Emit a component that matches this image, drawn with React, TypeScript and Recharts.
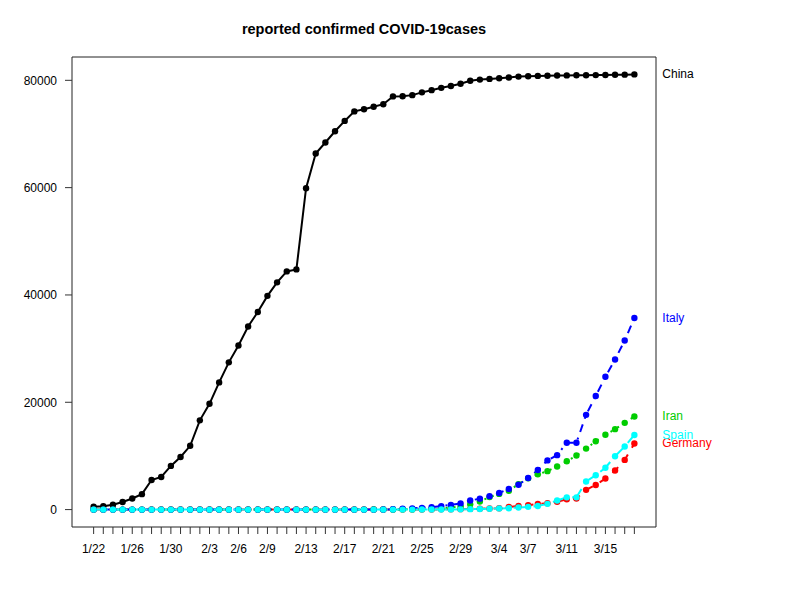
import React from "react";
import {
  ComposedChart,
  Line,
  XAxis,
  YAxis,
  ReferenceArea,
  LabelList,
} from "recharts";

// days 1/22 .. 3/18 (2020)
const dates = [
  "1/22", "1/23", "1/24", "1/25", "1/26", "1/27", "1/28", "1/29", "1/30", "1/31",
  "2/1", "2/2", "2/3", "2/4", "2/5", "2/6", "2/7", "2/8", "2/9", "2/10",
  "2/11", "2/12", "2/13", "2/14", "2/15", "2/16", "2/17", "2/18", "2/19", "2/20",
  "2/21", "2/22", "2/23", "2/24", "2/25", "2/26", "2/27", "2/28", "2/29", "3/1",
  "3/2", "3/3", "3/4", "3/5", "3/6", "3/7", "3/8", "3/9", "3/10", "3/11",
  "3/12", "3/13", "3/14", "3/15", "3/16", "3/17", "3/18",
];

const labeledDates = ["1/22", "1/26", "1/30", "2/3", "2/6", "2/9", "2/13", "2/17", "2/21", "2/25", "2/29", "3/4", "3/7", "3/11", "3/15"];

const yTicks = [0, 20000, 40000, 60000, 80000];

const china = [
  548, 643, 920, 1406, 2075, 2877, 5509, 6087, 8141, 9802,
  11891, 16630, 19716, 23707, 27440, 30587, 34110, 36814, 39829, 42354,
  44386, 44759, 59895, 66358, 68413, 70513, 72434, 74211, 74619, 75077,
  75550, 77001, 77022, 77241, 77754, 78166, 78600, 78928, 79356, 79932,
  80136, 80261, 80386, 80537, 80690, 80770, 80823, 80860, 80887, 80921,
  80932, 80945, 80977, 81003, 81033, 81058, 81102,
];

const germany = [
  0, 0, 0, 0, 0, 1, 4, 4, 4, 5,
  8, 10, 12, 12, 12, 12, 13, 13, 14, 14,
  16, 16, 16, 16, 16, 16, 16, 16, 16, 16,
  16, 16, 16, 16, 17, 27, 46, 48, 79, 130,
  159, 196, 262, 482, 670, 799, 1040, 1176, 1457, 1908,
  2078, 3675, 4585, 5795, 7272, 9257, 12327,
];

const iran = [
  0, 0, 0, 0, 0, 0, 0, 0, 0, 0,
  0, 0, 0, 0, 0, 0, 0, 0, 0, 0,
  0, 0, 0, 0, 0, 0, 0, 0, 2, 5,
  18, 28, 43, 61, 95, 139, 245, 388, 593, 978,
  1501, 2336, 2922, 3513, 4747, 5823, 6566, 7161, 8042, 9000,
  10075, 11364, 12729, 13938, 14991, 16169, 17361,
];

const italy = [
  0, 0, 0, 0, 0, 0, 0, 0, 0, 2,
  2, 2, 2, 2, 2, 2, 3, 3, 3, 3,
  3, 3, 3, 3, 3, 3, 3, 3, 3, 3,
  20, 62, 155, 229, 322, 453, 655, 888, 1128, 1694,
  2036, 2502, 3089, 3858, 4636, 5883, 7375, 9172, 10149, 12462,
  12462, 17660, 21157, 24747, 27980, 31506, 35713,
];

const spain = [
  0, 0, 0, 0, 0, 0, 0, 0, 0, 0,
  1, 1, 1, 1, 1, 1, 1, 1, 2, 2,
  2, 2, 2, 2, 2, 2, 2, 2, 2, 2,
  2, 2, 2, 2, 6, 13, 15, 32, 45, 84,
  120, 165, 222, 259, 400, 500, 673, 1073, 1695, 2277,
  2277, 5232, 6391, 7798, 9942, 11748, 13910,
];

const series = [
  { key: "China", values: china, color: "#000000", dash: undefined },
  { key: "Germany", values: germany, color: "#FF0000", dash: "8 8" },
  { key: "Iran", values: iran, color: "#00CD00", dash: "2 6" },
  { key: "Italy", values: italy, color: "#0000FF", dash: "2 6 8 6" },
  { key: "Spain", values: spain, color: "#00FFFF", dash: "14 6" },
];

const rows = dates.map((d, i) => {
  const r: Record<string, number | string> = { i, date: d };
  series.forEach((s) => {
    r[s.key] = s.values[i];
  });
  return r;
});

const n = dates.length;
const xPad = (n - 1) * 0.04;
const yMax = Math.max(...china);
const yPad = yMax * 0.04;
const xDomain: [number, number] = [-xPad, n - 1 + xPad];
const yDomain: [number, number] = [-yPad, yMax + yPad];
const xTicks = dates.map((_, i) => i);

const FONT = "'Liberation Sans', Arial, Helvetica, sans-serif";

export default function App() {
  return (
    <div style={{ position: "absolute", left: 0, top: 0, fontFamily: FONT }}>
      <ComposedChart
        width={800}
        height={600}
        data={rows}
        margin={{ top: 57, right: 144, bottom: 0, left: 0 }}
        style={{ fontFamily: FONT }}
      >
        <XAxis
          dataKey="i"
          type="number"
          domain={xDomain}
          ticks={xTicks}
          interval={0}
          height={73}
          axisLine={false}
          tickSize={7}
          tickMargin={10}
          tick={{ fill: "#000", fontSize: 12 }}
          tickLine={{ stroke: "#333" }}
          tickFormatter={(v: number) => (labeledDates.includes(dates[v]) ? dates[v] : "")}
          allowDataOverflow
        />
        <YAxis
          type="number"
          domain={yDomain}
          ticks={yTicks}
          interval={0}
          width={72}
          axisLine={false}
          tickSize={7}
          tickMargin={8}
          tick={{ fill: "#000", fontSize: 12 }}
          tickLine={{ stroke: "#333" }}
          allowDataOverflow
        />
        <ReferenceArea
          x1={xDomain[0]}
          x2={xDomain[1]}
          y1={yDomain[0]}
          y2={yDomain[1]}
          fill="none"
          stroke="#222"
          strokeWidth={1}
          ifOverflow="visible"
        />
        {series.map((s) => (
          <Line
            key={s.key}
            dataKey={s.key}
            type="linear"
            stroke={s.color}
            strokeWidth={2}
            strokeDasharray={s.dash}
            isAnimationActive={false}
            dot={(p: any) => (
              <circle key={`${s.key}-${p.index}`} cx={p.cx} cy={p.cy} r={3.2} fill={s.color} stroke="none" />
            )}
            activeDot={false}
          >
            <LabelList
              dataKey={s.key}
              content={(p: any) =>
                p.index === n - 1 ? (
                  <text
                    x={Number(p.x) + 28}
                    y={Number(p.y)}
                    fill={s.color}
                    fontSize={12}
                    fontFamily={FONT}
                    textAnchor="start"
                    dominantBaseline="central"
                  >
                    {s.key}
                  </text>
                ) : null
              }
            />
          </Line>
        ))}
        <text
          x={364}
          y={29}
          textAnchor="middle"
          dominantBaseline="central"
          fontSize={14.5}
          fontWeight="bold"
          fontFamily={FONT}
          fill="#000"
        >
          reported confirmed COVID-19cases
        </text>
      </ComposedChart>
    </div>
  );
}
